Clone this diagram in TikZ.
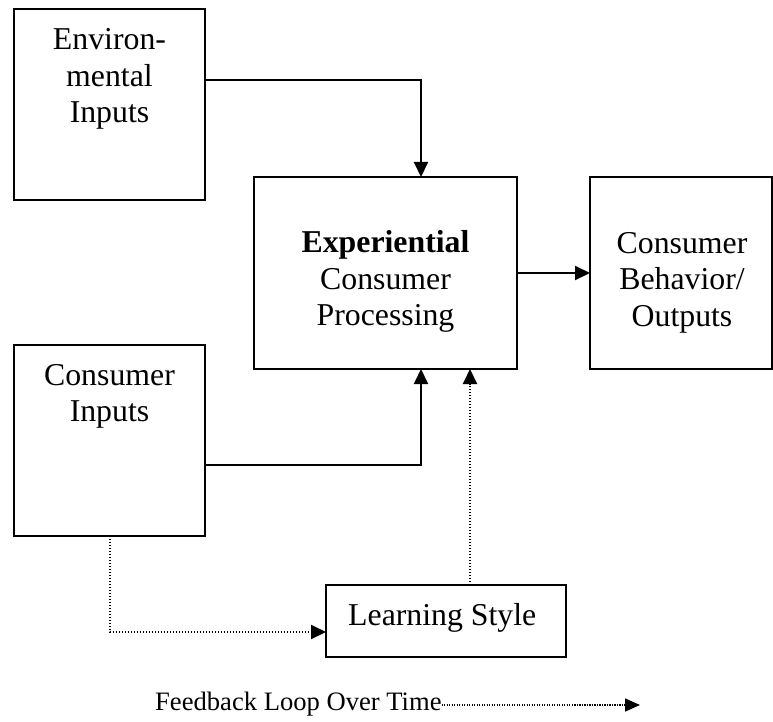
\documentclass[tikz,border=0pt]{standalone}
\usepackage{fontspec}
\setmainfont{Liberation Serif}
\usetikzlibrary{arrows.meta}
\newcommand\tlines[1]{\begin{tabular}[t]{@{}c@{}}#1\end{tabular}}
\tikzset{
  box/.style={draw, line width=2pt, rectangle, inner sep=0pt, outer sep=0pt},
  lbl/.style={inner sep=0pt, anchor=base, font=\fontsize{31.8}{36.5}\selectfont},
  conn/.style={line width=2pt, -{Triangle[length=15pt,width=14pt]}},
  dconn/.style={line width=2pt, dash pattern=on 1.4pt off 1.6pt, -{Triangle[length=15pt,width=14pt]}},
  fconn/.style={line width=1.6pt, dash pattern=on 1.2pt off 1.3pt, -{Triangle[length=15pt,width=13pt]}}
}
\begin{document}
\begin{tikzpicture}[x=1pt,y=-1pt]
\useasboundingbox (0,0) rectangle (773,722);
% boxes
\node[box, minimum width=191pt, minimum height=191pt] (env) at (109.5,104.5) {};
\node[box, minimum width=263pt, minimum height=192pt] (exp) at (385.5,273) {};
\node[box, minimum width=182pt, minimum height=192pt] (cb) at (681,273) {};
\node[box, minimum width=191pt, minimum height=191pt] (ci) at (109.5,440.5) {};
\node[box, minimum width=240pt, minimum height=72pt] (ls) at (446,621) {};
% labels
\node[lbl] (envt) at (109.5,50) {\tlines{Environ-\\mental\\Inputs}};
\node[lbl] (expt) at (385.5,252.7) {\tlines{\textbf{Experiential}\\Consumer\\Processing}};
\node[lbl] (cbt) at (682,253) {\tlines{Consumer\\Behavior/\\Outputs}};
\node[lbl] (cit) at (109.5,385) {\tlines{Consumer\\Inputs}};
\node[lbl, anchor=base west] (lst) at (348,625) {Learning Style};
\node[inner sep=0pt, anchor=base west, font=\fontsize{26.6}{30}\selectfont] (fb) at (155,710) {Feedback Loop Over Time};
\coordinate (fbend) at (640,705);
% connectors
\draw[conn] ([yshift=24.5pt]env.east) -| ([xshift=35.5pt]exp.north);
\draw[conn] (exp.east) -- (cb.west);
\draw[conn] ([yshift=-24.5pt]ci.east) -| ([xshift=35.5pt]exp.south);
\draw[dconn] ([xshift=24pt]ls.north) -- ([xshift=84.5pt]exp.south);
\draw[dconn] (ci.south) |- ([yshift=-11pt]ls.west);
\draw[fconn] (fb.base east |- fbend) -- (fbend);
\end{tikzpicture}
\end{document}
